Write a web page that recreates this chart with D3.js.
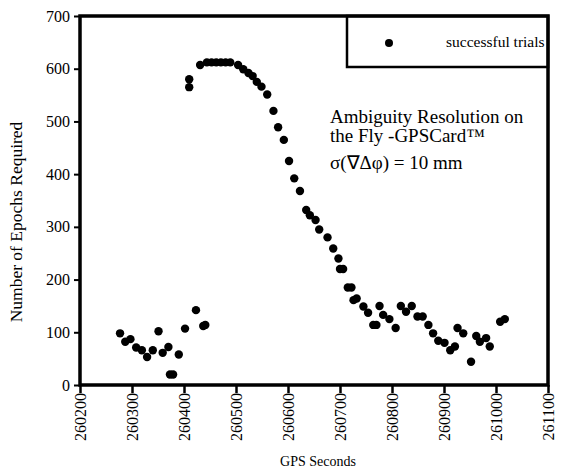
<!DOCTYPE html>
<html>
<head>
<meta charset="utf-8">
<script src="https://cdn.jsdelivr.net/npm/d3@7"></script>
<style>
  body { margin: 0; background: #fff; }
  text { font-family: "Liberation Serif", "Times New Roman", serif; fill: #000; }
</style>
</head>
<body>
<svg width="568" height="470"></svg>
<script>
// successful trials: GPS seconds vs number of epochs required
var gpsSeconds = [
  260277, 260287, 260297, 260308, 260319, 260329, 260340, 260351, 260359, 260370,
  260373, 260379, 260390, 260402, 260410, 260410, 260423, 260431, 260437, 260441,
  260444, 260453, 260462, 260471, 260480, 260489, 260504, 260514, 260524, 260532,
  260540, 260549, 260560, 260572, 260581, 260592, 260602, 260612, 260623, 260635,
  260642, 260653, 260660, 260676, 260687, 260697, 260700, 260706, 260715, 260722,
  260726, 260732, 260745, 260754, 260764, 260770, 260776, 260783, 260795, 260807,
  260817, 260827, 260838, 260849, 260859, 260870, 260879, 260889, 260901, 260912,
  260921, 260926, 260937, 260952, 260962, 260969, 260981, 260988, 261008, 261017
];
var epochs = [
  98, 82, 87, 71, 66, 53, 66, 102, 61, 72,
  20, 20, 58, 107, 565, 580, 142, 607, 112, 114,
  612, 612, 612, 612, 612, 612, 607, 599, 592, 586,
  575, 566, 551, 520, 489, 465, 425, 392, 368, 332,
  322, 313, 295, 280, 259, 240, 220, 220, 185, 185,
  161, 164, 149, 137, 114, 114, 150, 133, 125, 108,
  150, 139, 150, 130, 130, 114, 98, 84, 80, 66,
  73, 108, 98, 44, 93, 82, 89, 73, 120, 125
];
var xTicks = [260200, 260300, 260400, 260500, 260600, 260700, 260800, 260900, 261000, 261100];
var yTicks = [0, 100, 200, 300, 400, 500, 600, 700];
var legendLabel = "successful trials";
var noteLines = ["Ambiguity Resolution on", "the Fly -GPSCard\u2122", "\u03c3(\u2207\u0394\u03c6) = 10 mm"];

draw();

function draw() {
  var svg = d3.select("svg");
  var pLeft = 80, pRight = 548, pTop = 16, pBottom = 385;

  var xScale = d3.scaleLinear().domain([260200, 261100]).range([pLeft, pRight]);
  var yScale = d3.scaleLinear().domain([0, 700]).range([pBottom, pTop]);

  // y axis
  var yAxis = d3.axisLeft(yScale).tickValues(yTicks).tickSize(6).tickPadding(4)
    .tickFormat(d3.format("d"));
  var yG = svg.append("g").attr("transform", "translate(" + pLeft + ",0)").call(yAxis);
  yG.select(".domain").remove();
  yG.selectAll(".tick line").attr("stroke", "#000").attr("stroke-width", 2);
  yG.selectAll(".tick text").attr("font-size", 16).attr("font-family", "Liberation Serif");

  // x axis with vertical labels
  var xAxis = d3.axisBottom(xScale).tickValues(xTicks).tickSize(8)
    .tickFormat(d3.format("d"));
  var xG = svg.append("g").attr("transform", "translate(0," + pBottom + ")").call(xAxis);
  xG.select(".domain").remove();
  xG.selectAll(".tick line").attr("stroke", "#000").attr("stroke-width", 2.5);
  xG.selectAll(".tick text")
    .attr("font-size", 16)
    .attr("font-family", "Liberation Serif")
    .attr("text-anchor", "end")
    .attr("transform", "translate(0,8) rotate(-90)")
    .attr("x", 0).attr("y", 0).attr("dy", "0.35em");

  // frame
  svg.append("rect")
    .attr("x", pLeft).attr("y", pTop)
    .attr("width", pRight - pLeft).attr("height", pBottom - pTop)
    .attr("fill", "none").attr("stroke", "#000").attr("stroke-width", 3.5);

  // legend box
  svg.append("rect")
    .attr("x", 347).attr("y", pTop)
    .attr("width", pRight - 347).attr("height", 51)
    .attr("fill", "none").attr("stroke", "#000").attr("stroke-width", 2.5);
  svg.append("circle").attr("cx", 389).attr("cy", 43).attr("r", 4).attr("fill", "#000");
  svg.append("text").attr("x", 446).attr("y", 47).attr("font-size", 15.5).text(legendLabel);

  // annotation
  svg.append("g").selectAll("text").data(noteLines).enter().append("text")
    .attr("x", 330)
    .attr("y", function (d, i) { return [123, 142, 169][i]; })
    .attr("font-size", 19)
    .text(function (d) { return d; });

  // points
  svg.append("g").selectAll("circle")
    .data(gpsSeconds)
    .enter().append("circle")
    .attr("cx", function (d) { return xScale(d); })
    .attr("cy", function (d, i) { return yScale(epochs[i]); })
    .attr("r", 4.2)
    .attr("fill", "#000");

  // axis titles
  svg.append("text")
    .attr("transform", "translate(22,222) rotate(-90)")
    .attr("text-anchor", "middle")
    .attr("font-size", 17.5)
    .text("Number of Epochs Required");
  svg.append("text")
    .attr("x", 318).attr("y", 466)
    .attr("text-anchor", "middle")
    .attr("font-size", 14)
    .text("GPS Seconds");
}
</script>
</body>
</html>
